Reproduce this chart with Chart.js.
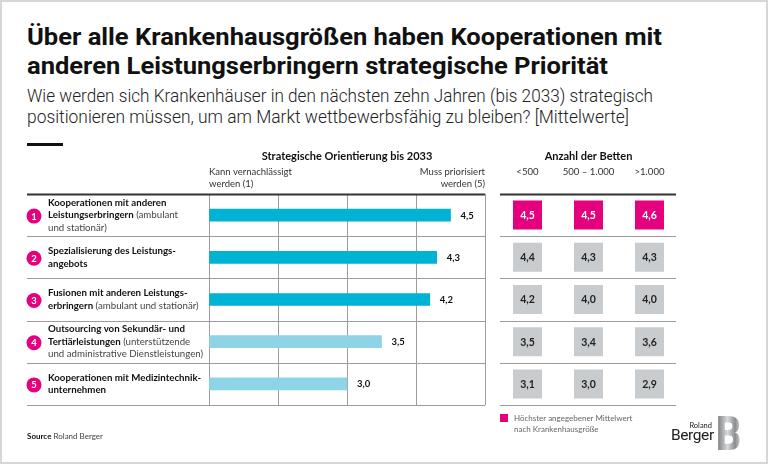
<!DOCTYPE html>
<html>
<head>
<meta charset="utf-8">
<script src="https://cdn.jsdelivr.net/npm/chart.js@4"></script>
<style>
  html, body { margin: 0; padding: 0; background: #fff; }
  #frame { position: relative; width: 768px; height: 464px; overflow: hidden; font-family: Lato, "Open Sans", sans-serif; }
  #edge { position: absolute; left: 0; top: 0; right: 0; bottom: 0; border: 2px solid #d6d6d6; pointer-events: none; }
  canvas { position: absolute; left: 0; top: 0; }
  .fit { position: absolute; left: 27px; white-space: nowrap; transform-origin: 0 0; }
  .title { font-family: Roboto, sans-serif; font-weight: 700; font-size: 24px; line-height: 24px; color: #111; }
  .sub { font-family: Roboto, sans-serif; font-weight: 300; font-size: 18px; line-height: 18px; color: #222; }
  #rule { position: absolute; left: 27px; top: 143px; width: 36px; height: 3px; background: #111; }
  #source { position: absolute; left: 27px; top: 431px; font-size: 8px; color: #444; }
  #source b { color: #111; }
  #legend { position: absolute; left: 500px; top: 413px; font-size: 8px; line-height: 10.5px; color: #666; }
  #legend i { position: absolute; left: 0; top: 1px; width: 8px; height: 8px; background: #e5007d; }
  #legend span { display: block; margin-left: 14px; }
  #logo1 { position: absolute; left: 672px; width: 40px; top: 421px; text-align: right; font-size: 7.5px; color: #222; }
  #logo2 { position: absolute; left: 671px; top: 426px; font-family: Roboto, sans-serif; font-size: 15.5px; color: #222; letter-spacing: -0.4px; }
  #logoB { position: absolute; left: 716px; top: 409px; font-family: Roboto, sans-serif; font-weight: 900; font-size: 49px; line-height: 49px;
           background: linear-gradient(90deg, #6d6f72, #d9dadb 45%, #8a8c8f 75%, #e4e5e6); -webkit-background-clip: text; background-clip: text; color: transparent;
           transform: scaleX(0.8); transform-origin: 0 0; }
</style>
</head>
<body>
<div id="frame">
  <div class="fit title" style="top:25px" data-w="635">Über alle Krankenhausgrößen haben Kooperationen mit</div>
  <div class="fit title" style="top:54px" data-w="581">anderen Leistungserbringern strategische Priorität</div>
  <div class="fit sub" style="top:87px" data-w="626">Wie werden sich Krankenhäuser in den nächsten zehn Jahren (bis 2033) strategisch</div>
  <div class="fit sub" style="top:108px" data-w="602">positionieren müssen, um am Markt wettbewerbsfähig zu bleiben? [Mittelwerte]</div>
  <div id="rule"></div>
  <canvas id="bars" width="768" height="464"></canvas>
  <canvas id="table" width="768" height="464"></canvas>
  <div id="legend"><i></i><span>Höchster angegebener Mittelwert</span><span>nach Krankenhausgröße</span></div>
  <div id="source"><b>Source</b> Roland Berger</div>
  <div id="logo1">Roland</div>
  <div id="logo2">Berger</div>
  <div id="logoB">B</div>
  <div id="edge"></div>
</div>
<script>
// categories
var items = [
  'Kooperationen mit anderen Leistungserbringern (ambulant und stationär)',
  'Spezialisierung des Leistungsangebots',
  'Fusionen mit anderen Leistungserbringern (ambulant und stationär)',
  'Outsourcing von Sekundär- und Tertiärleistungen (unterstützende und administrative Dienstleistungen)',
  'Kooperationen mit Medizintechnikunternehmen'
];
// how each label is broken into lines: [text, bold]
var itemLines = [
  [[['Kooperationen mit anderen', true]], [['Leistungserbringern', true], [' (ambulant', false]], [['und stationär)', false]]],
  [[['Spezialisierung des Leistungs-', true]], [['angebots', true]]],
  [[['Fusionen mit anderen Leistungs-', true]], [['erbringern', true], [' (ambulant und stationär)', false]]],
  [[['Outsourcing von Sekundär- und', true]], [['Tertiärleistungen', true], [' (unterstützende', false]], [['und administrative Dienstleistungen)', false]]],
  [[['Kooperationen mit Medizintechnik-', true]], [['unternehmen', true]]]
];
// series
var overall = [4.5, 4.3, 4.2, 3.5, 3.0];
var bedGroups = ['<500', '500 – 1.000', '>1.000'];
var bedsUnder500 = [4.5, 4.4, 4.2, 3.5, 3.1];
var beds500to1000 = [4.5, 4.3, 4.0, 3.4, 3.0];
var bedsOver1000 = [4.6, 4.3, 4.0, 3.6, 2.9];
// scale
var scaleMin = 1, scaleMax = 5;
var scaleLabelsLeft = ['Kann vernachlässigt', 'werden (1)'];
var scaleLabelsRight = ['Muss priorisiert', 'werden (5)'];

var PINK = '#e5007d';
var FONT = 'Lato, "Open Sans", sans-serif';
function fmt(v) { return v.toFixed(1).replace('.', ','); }

// fit the heading lines to their width
document.querySelectorAll('.fit').forEach(function (el) {
  var w = el.getBoundingClientRect().width;
  el.style.transform = 'scaleX(' + (parseFloat(el.dataset.w) / w) + ')';
});

function rowLines(chart, x0, x1) {
  var ctx = chart.ctx, y = chart.scales.y, n = items.length;
  var step = y.getPixelForValue(1) - y.getPixelForValue(0);
  for (var i = 0; i <= n; i++) {
    var yy = Math.round(y.getPixelForValue(0) - step / 2 + i * step) + 0.5;
    ctx.strokeStyle = i === 0 ? '#333' : '#9c9c9c';
    ctx.lineWidth = i === 0 ? 2 : 1;
    ctx.beginPath(); ctx.moveTo(x0, yy); ctx.lineTo(x1, yy); ctx.stroke();
  }
}

var barsPlugin = {
  id: 'barsDecor',
  afterDraw: function (chart) {
    var ctx = chart.ctx, a = chart.chartArea, x = chart.scales.x, y = chart.scales.y;
    ctx.save();
    rowLines(chart, 27, a.right);

    // value labels
    ctx.font = 'bold 9.5px ' + FONT;
    ctx.fillStyle = '#111';
    ctx.textAlign = 'left'; ctx.textBaseline = 'middle';
    chart.getDatasetMeta(0).data.forEach(function (bar, i) {
      ctx.fillText(fmt(overall[i]), bar.x + 10, bar.y + 0.5);
    });

    // row labels with numbered circles
    var lh = 12.5;
    itemLines.forEach(function (lines, i) {
      var cy = y.getPixelForValue(i);
      ctx.fillStyle = PINK;
      ctx.beginPath(); ctx.arc(34, cy + 1, 7.5, 0, Math.PI * 2); ctx.fill();
      ctx.fillStyle = '#fff'; ctx.textAlign = 'center';
      ctx.font = 'bold 9.5px ' + FONT;
      ctx.fillText(String(i + 1), 34, cy + 1.5);
      ctx.textAlign = 'left';
      var y0 = cy - (lines.length - 1) * lh / 2;
      lines.forEach(function (segs, k) {
        var xx = 48;
        segs.forEach(function (s) {
          ctx.font = (s[1] ? 'bold ' : '') + '9.7px ' + FONT;
          ctx.fillStyle = s[1] ? '#111' : '#444';
          ctx.fillText(s[0], xx, y0 + k * lh);
          xx += ctx.measureText(s[0]).width;
        });
      });
    });

    // header
    ctx.font = 'bold 11px ' + FONT;
    ctx.fillStyle = '#111'; ctx.textAlign = 'center';
    ctx.fillText('Strategische Orientierung bis 2033', (x.left + x.right) / 2, 156);
    ctx.font = '9.5px ' + FONT;
    ctx.fillStyle = '#333';
    ctx.textAlign = 'left';
    scaleLabelsLeft.forEach(function (t, k) { ctx.fillText(t, x.getPixelForValue(scaleMin), 172 + k * 11.5); });
    ctx.textAlign = 'right';
    scaleLabelsRight.forEach(function (t, k) { ctx.fillText(t, x.getPixelForValue(scaleMax), 172 + k * 11.5); });
    ctx.restore();
  }
};

new Chart(document.getElementById('bars'), {
  type: 'bar',
  data: {
    labels: items,
    datasets: [{
      data: overall,
      base: scaleMin,
      backgroundColor: overall.map(function (v) { return v >= 4 ? '#00b2d3' : '#8fd3e6'; }),
      barThickness: 12,
      borderWidth: 0
    }]
  },
  options: {
    indexAxis: 'y',
    responsive: false,
    animation: false,
    events: [],
    layout: { padding: { left: 209, right: 283, top: 194, bottom: 59 } },
    plugins: { legend: { display: false }, tooltip: { enabled: false } },
    scales: {
      x: {
        min: scaleMin, max: scaleMax,
        ticks: { display: false, stepSize: 1 },
        grid: { color: '#9c9c9c', drawTicks: false, lineWidth: 1 },
        border: { display: false }
      },
      y: { display: false }
    }
  },
  plugins: [barsPlugin]
});

// cells of the bed-size table, highest value per column in pink
var cells = [];
[bedsUnder500, beds500to1000, bedsOver1000].forEach(function (col, c) {
  var max = Math.max.apply(null, col);
  col.forEach(function (v, r) {
    cells.push({ x: bedGroups[c], y: items[r], v: v, top: v === max });
  });
});

var tablePlugin = {
  id: 'tableDecor',
  afterDraw: function (chart) {
    var ctx = chart.ctx, a = chart.chartArea, x = chart.scales.x;
    ctx.save();
    rowLines(chart, a.left + 3, a.right - 4);
    ctx.textAlign = 'center'; ctx.textBaseline = 'middle';
    ctx.font = 'bold 10.5px ' + FONT;
    chart.getDatasetMeta(0).data.forEach(function (pt, i) {
      ctx.fillStyle = cells[i].top ? '#fff' : '#222';
      ctx.fillText(fmt(cells[i].v), pt.x, pt.y + 0.5);
    });
    ctx.font = 'bold 11px ' + FONT;
    ctx.fillStyle = '#111';
    ctx.fillText('Anzahl der Betten', (a.left + a.right) / 2, 156);
    ctx.font = '9.6px ' + FONT;
    ctx.fillStyle = '#333';
    bedGroups.forEach(function (g, c) { ctx.fillText(g, x.getPixelForValue(c), 172); });
    ctx.restore();
  }
};

new Chart(document.getElementById('table'), {
  type: 'scatter',
  data: {
    datasets: [{
      data: cells,
      pointStyle: 'rect',
      pointRadius: 20.5,
      pointHoverRadius: 20.5,
      borderWidth: 0,
      backgroundColor: cells.map(function (c) { return c.top ? PINK : '#c9ccce'; })
    }]
  },
  options: {
    responsive: false,
    animation: false,
    events: [],
    layout: { padding: { left: 497, right: 88, top: 194, bottom: 59 } },
    plugins: { legend: { display: false }, tooltip: { enabled: false } },
    scales: {
      x: { type: 'category', labels: bedGroups, offset: true, display: false },
      y: { type: 'category', labels: items, offset: true, display: false }
    }
  },
  plugins: [tablePlugin]
});
</script>
</body>
</html>
